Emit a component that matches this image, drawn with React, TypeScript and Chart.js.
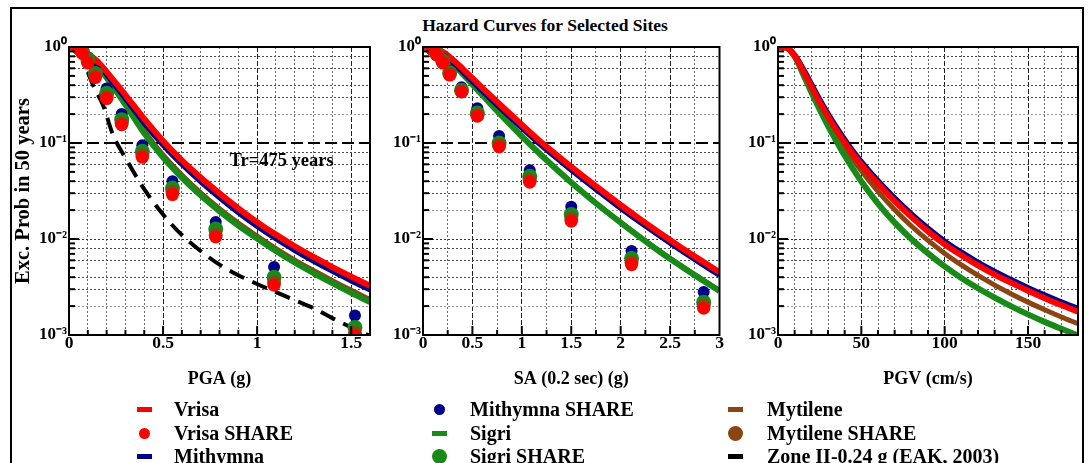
import { useEffect, useRef } from "react";
import { Chart, registerables } from "chart.js";

Chart.register(...registerables);

const FONT = "'Liberation Serif', 'Times New Roman', Times, serif";

const C_RED = "#ff0000";
const C_NAVY = "#00008b";
const C_GREEN = "#178a17";
const C_BROWN = "#8b4513";
const C_BLACK = "#000000";

// ---------------- Panel 1 : PGA (g) ----------------
const pgaX = [0, 0.05, 0.1, 0.15, 0.2, 0.3, 0.4, 0.5, 0.6, 0.7, 0.8, 0.9, 1.0, 1.1, 1.2, 1.3, 1.4, 1.5, 1.6];
const pgaVrisa = [1.0, 0.975, 0.85, 0.71, 0.55, 0.316, 0.178, 0.105, 0.066, 0.0437, 0.0299, 0.0209, 0.015, 0.0111, 0.00841, 0.0065, 0.0051, 0.00406, 0.00326];
const pgaMithymna = [1.0, 0.966, 0.822, 0.668, 0.513, 0.288, 0.16, 0.0944, 0.0596, 0.0394, 0.0269, 0.0188, 0.0135, 0.01, 0.00759, 0.00586, 0.0046, 0.00366, 0.00294];
const pgaSigri = [1.0, 0.955, 0.8, 0.631, 0.479, 0.251, 0.126, 0.0708, 0.0437, 0.0285, 0.0195, 0.0138, 0.0101, 0.0075, 0.00569, 0.00442, 0.00347, 0.00275, 0.00221];
const pgaMytilene = [1.0, 0.97, 0.83, 0.66, 0.505, 0.266, 0.1336, 0.075, 0.0463, 0.0302, 0.0207, 0.01463, 0.0107, 0.00795, 0.00603, 0.00469, 0.00368, 0.00292, 0.00234];
const pgaEakX = [0.1, 0.128, 0.18, 0.235, 0.3, 0.4, 0.5, 0.6, 0.7, 0.8, 0.9, 1.0, 1.1, 1.2, 1.3, 1.4, 1.5, 1.6];
const pgaEak = [0.55, 0.4, 0.25, 0.12, 0.07, 0.033, 0.018, 0.011, 0.0075, 0.0054, 0.0042, 0.0034, 0.0028, 0.0023, 0.0019, 0.0015, 0.0012, 0.00098];
const pgaShareX = [0.05, 0.071, 0.1, 0.14, 0.2, 0.28, 0.39, 0.55, 0.78, 1.09, 1.52];
const pgaShareMithymna = [1.0, 0.93, 0.78, 0.57, 0.37, 0.2, 0.095, 0.04, 0.015, 0.0051, 0.0016];
const pgaShareSigri = [0.99, 0.9, 0.74, 0.53, 0.33, 0.175, 0.082, 0.034, 0.0127, 0.004, 0.0012];
const pgaShareMytilene = [0.98, 0.88, 0.7, 0.5, 0.3, 0.16, 0.074, 0.031, 0.011, 0.0035, 0.00105];
const pgaShareVrisa = [0.97, 0.86, 0.68, 0.48, 0.29, 0.155, 0.071, 0.029, 0.0105, 0.0033, 0.00098];

// ---------------- Panel 2 : SA (0.2 sec) (g) ----------------
const saX = [0, 0.1, 0.2, 0.3, 0.4, 0.5, 0.6, 0.8, 1.0, 1.2, 1.4, 1.6, 1.8, 2.0, 2.2, 2.4, 2.6, 2.8, 3.0];
const saVrisa = [1.0, 0.977, 0.891, 0.741, 0.596, 0.473, 0.376, 0.24, 0.155, 0.101, 0.0684, 0.0468, 0.0324, 0.0226, 0.016, 0.01148, 0.00832, 0.0061, 0.00452];
const saMithymna = [1.0, 0.97, 0.86, 0.69, 0.55, 0.436, 0.347, 0.221, 0.143, 0.0933, 0.0631, 0.0432, 0.0299, 0.0208, 0.01477, 0.0106, 0.00768, 0.00563, 0.00417];
const saSigri = [1.0, 0.966, 0.841, 0.676, 0.525, 0.407, 0.316, 0.1905, 0.1175, 0.0741, 0.0479, 0.0316, 0.0214, 0.0148, 0.01035, 0.00733, 0.00531, 0.00389, 0.00288];
const saMytilene = [1.0, 0.97, 0.858, 0.69, 0.536, 0.415, 0.322, 0.194, 0.12, 0.0756, 0.0489, 0.0322, 0.0218, 0.0151, 0.01056, 0.00748, 0.00542, 0.00397, 0.00294];
const saShareX = [0.1, 0.14, 0.2, 0.27, 0.39, 0.55, 0.77, 1.08, 1.5, 2.11, 2.84];
const saShareMithymna = [0.98, 0.9, 0.76, 0.57, 0.38, 0.23, 0.118, 0.052, 0.0217, 0.0075, 0.0028];
const saShareSigri = [0.96, 0.86, 0.72, 0.54, 0.355, 0.205, 0.1, 0.045, 0.018, 0.0063, 0.0022];
const saShareMytilene = [0.95, 0.84, 0.7, 0.52, 0.345, 0.195, 0.095, 0.041, 0.0162, 0.0057, 0.002];
const saShareVrisa = [0.94, 0.82, 0.68, 0.51, 0.34, 0.19, 0.091, 0.039, 0.0153, 0.0054, 0.0019];

// ---------------- Panel 3 : PGV (cm/s) ----------------
const pgvX = [0, 5, 10, 15, 20, 25, 30, 35, 40, 45, 50, 60, 70, 80, 90, 100, 110, 120, 130, 140, 150, 160, 170, 180];
const pgvMithymna = [1.0, 0.99, 0.832, 0.603, 0.417, 0.288, 0.204, 0.148, 0.1096, 0.0832, 0.0646, 0.0407, 0.0269, 0.0184, 0.01303, 0.00955, 0.00733, 0.00575, 0.00462, 0.00378, 0.00313, 0.00262, 0.00222, 0.0019];
const pgvVrisa = [1.0, 0.99, 0.81, 0.565, 0.385, 0.266, 0.188, 0.1365, 0.1011, 0.0768, 0.0596, 0.0376, 0.0248, 0.017, 0.012, 0.0088, 0.00677, 0.0053, 0.00426, 0.00349, 0.00289, 0.00242, 0.00205, 0.00175];
const pgvMytilene = [1.0, 0.985, 0.813, 0.569, 0.38, 0.257, 0.178, 0.126, 0.0912, 0.0676, 0.0513, 0.0313, 0.0202, 0.01365, 0.00966, 0.00708, 0.00537, 0.00417, 0.00331, 0.00268, 0.0022, 0.00183, 0.00154, 0.00131];
const pgvSigri = [1.0, 0.98, 0.794, 0.525, 0.339, 0.224, 0.151, 0.105, 0.0741, 0.0537, 0.0398, 0.0234, 0.0148, 0.01, 0.00708, 0.00518, 0.00393, 0.00307, 0.00245, 0.00199, 0.00164, 0.00137, 0.00116, 0.00099];

// ---------------- Axes / ticks ----------------
const yDecades = [0.001, 0.01, 0.1, 1];
const yMinorMultipliers = [2, 3, 4, 5, 6, 7, 8, 9];
const yGridMultipliers = [3, 4, 6, 8];
const yFaintMultipliers = [2];
const trLineValue = 0.1;

const pgaMajorTicks = [0, 0.5, 1, 1.5];
const saMajorTicks = [0, 0.5, 1, 1.5, 2, 2.5, 3];
const pgvMajorTicks = [0, 50, 100, 150];

const trLabel = "Tr=475 years";
const trLabelX = 1.13;
const trLabelY = 0.065;

const legendItems = [
  { label: "Vrisa", color: C_RED, kind: "line", size: 0 },
  { label: "Vrisa SHARE", color: C_RED, kind: "dot", size: 11 },
  { label: "Mithymna", color: C_NAVY, kind: "line", size: 0 },
  { label: "Mithymna SHARE", color: C_NAVY, kind: "dot", size: 11 },
  { label: "Sigri", color: C_GREEN, kind: "line", size: 0 },
  { label: "Sigri SHARE", color: C_GREEN, kind: "dot", size: 15 },
  { label: "Mytilene", color: C_BROWN, kind: "line", size: 0 },
  { label: "Mytilene SHARE", color: C_BROWN, kind: "dot", size: 15 },
  { label: "Zone II-0.24 g (EAK, 2003)", color: C_BLACK, kind: "line", size: 0 },
];

// ---------------- helpers ----------------
const supMap: Record<string, string> = { "-": "\u207B", "0": "\u2070", "1": "\u00B9", "2": "\u00B2", "3": "\u00B3" };
const sup = (n: number) => String(n).split("").map((c) => supMap[c] ?? c).join("");

const yTickValues: number[] = [];
yDecades.forEach((d, i) => {
  yTickValues.push(d);
  if (i < yDecades.length - 1) yMinorMultipliers.forEach((m) => yTickValues.push(+(m * d).toPrecision(6)));
});

function mantissa(v: number) {
  const e = Math.floor(Math.log10(v) + 1e-9);
  return Math.round((v / Math.pow(10, e)) * 1000) / 1000;
}
const near = (a: number, b: number) => Math.abs(a - b) < 1e-9 * Math.max(1, Math.abs(b));

function xy(xs: number[], ys: number[]) {
  return xs.map((x, i) => ({ x, y: ys[i] }));
}
function lineDs(label: string, xs: number[], ys: number[], color: string, width: number, order: number, dash: number[] = []) {
  return {
    label,
    data: xy(xs, ys),
    showLine: true,
    borderColor: color,
    backgroundColor: color,
    borderWidth: width,
    borderDash: dash,
    pointRadius: 0,
    cubicInterpolationMode: "monotone",
    order,
  };
}
function dotDs(label: string, xs: number[], ys: number[], color: string, r: number, order: number) {
  return {
    label,
    data: xy(xs, ys),
    showLine: false,
    pointRadius: r,
    pointBackgroundColor: color,
    pointBorderColor: color,
    pointBorderWidth: 0,
    backgroundColor: color,
    borderColor: color,
    order,
  };
}

interface PanelDef {
  xMax: number;
  xStep: number;
  xMajor: number[];
  xTitle: string;
  yAxisWidth: number;
  padRight: number;
  yTitle: string | null;
  datasets: any[];
  trText: boolean;
}

const isMajorX = (v: number, majors: number[]) => majors.some((m) => Math.abs(m - v) < 1e-6);

const axisPlugin = {
  id: "axisFrame",
  afterDatasetsDraw(chart: any) {
    const { ctx, chartArea: a, scales } = chart;
    const majors: number[] = chart.options.plugins.axisFrame.majors;
    const showTr: boolean = chart.options.plugins.axisFrame.tr;
    ctx.save();
    ctx.strokeStyle = "#000";
    ctx.lineWidth = 2;
    scales.y.ticks.forEach((t: any) => {
      const v = t.value;
      if (near(v, 1) || near(v, 0.001)) return;
      const p = scales.y.getPixelForValue(v);
      const len = mantissa(v) === 1 ? 10 : 6;
      ctx.beginPath();
      ctx.moveTo(a.left, p);
      ctx.lineTo(a.left + len, p);
      ctx.stroke();
    });
    scales.x.ticks.forEach((t: any) => {
      const v = t.value;
      const p = scales.x.getPixelForValue(v);
      if (Math.abs(p - a.left) < 1 || Math.abs(p - a.right) < 1) return;
      const len = isMajorX(v, majors) ? 9 : 5;
      ctx.beginPath();
      ctx.moveTo(p, a.bottom);
      ctx.lineTo(p, a.bottom - len);
      ctx.stroke();
    });
    ctx.strokeRect(a.left, a.top, a.right - a.left, a.bottom - a.top);
    if (showTr) {
      ctx.fillStyle = "#000";
      ctx.font = `bold 18.5px ${FONT}`;
      ctx.textAlign = "center";
      ctx.textBaseline = "middle";
      ctx.fillText(trLabel, scales.x.getPixelForValue(trLabelX), scales.y.getPixelForValue(trLabelY));
    }
    ctx.restore();
  },
};

function makeConfig(p: PanelDef): any {
  const xTicks: number[] = [];
  const n = Math.round(p.xMax / p.xStep);
  for (let i = 0; i <= n; i++) xTicks.push(Math.round(i * p.xStep * 1e6) / 1e6);
  const transparent = "rgba(0,0,0,0)";
  return {
    type: "scatter",
    data: { datasets: p.datasets },
    plugins: [axisPlugin],
    options: {
      responsive: false,
      animation: false,
      devicePixelRatio: 1,
      events: [],
      layout: { padding: { top: 47, right: p.padRight, left: 0, bottom: 0 } },
      plugins: {
        legend: { display: false },
        tooltip: { enabled: false },
        axisFrame: { majors: p.xMajor, tr: p.trText },
      },
      scales: {
        x: {
          type: "linear",
          min: 0,
          max: p.xMax,
          afterBuildTicks: (s: any) => {
            s.ticks = xTicks.map((v) => ({ value: v }));
          },
          afterFit: (s: any) => {
            s.height = 65;
          },
          ticks: {
            autoSkip: false,
            maxRotation: 0,
            padding: -2,
            color: "#000",
            font: { family: FONT, size: 17.5, weight: "bold" },
            callback: (v: number) => (isMajorX(v, p.xMajor) ? String(Math.round(v * 100) / 100) : ""),
          },
          grid: {
            drawTicks: false,
            color: (c: any) => {
              const v = c.tick?.value;
              if (v === undefined || v <= 1e-9 || Math.abs(v - p.xMax) < 1e-6) return transparent;
              return isMajorX(v, p.xMajor) ? "#222" : "#6a6a6a";
            },
            lineWidth: 1,
          },
          border: {
            display: true,
            color: "#000",
            width: 2,
            dash: (c: any) => {
              const v = c.tick?.value;
              if (v === undefined) return [];
              return isMajorX(v, p.xMajor) ? [5, 2] : [2, 2];
            },
          },
          title: {
            display: true,
            text: p.xTitle,
            color: "#000",
            font: { family: FONT, size: 18, weight: "bold" },
            padding: { top: 0, bottom: 10 },
          },
        },
        y: {
          type: "logarithmic",
          min: 0.001,
          max: 1,
          afterBuildTicks: (s: any) => {
            s.ticks = yTickValues.map((v) => ({ value: v }));
          },
          afterFit: (s: any) => {
            s.width = p.yAxisWidth;
          },
          ticks: {
            autoSkip: false,
            padding: 2,
            color: "#000",
            font: { family: FONT, size: 17, weight: "bold" },
            callback: (v: number) => {
              const e = Math.round(Math.log10(v));
              return near(v, Math.pow(10, e)) ? "10" + sup(e) : "";
            },
          },
          grid: {
            drawTicks: false,
            color: (c: any) => {
              const v = c.tick?.value;
              if (v === undefined || near(v, 1) || near(v, 0.001)) return transparent;
              if (near(v, trLineValue)) return "#000";
              const m = mantissa(v);
              if (m === 1) return "#333";
              if (yGridMultipliers.includes(m)) return "#4a4a4a";
              if (yFaintMultipliers.includes(m)) return "#9a9a9a";
              return transparent;
            },
            lineWidth: (c: any) => (c.tick && near(c.tick.value, trLineValue) ? 2 : 1),
          },
          border: {
            display: true,
            color: "#000",
            width: 2,
            dash: (c: any) => {
              const v = c.tick?.value;
              if (v === undefined) return [];
              if (near(v, trLineValue)) return [12, 5];
              return [2, 2];
            },
          },
          title: {
            display: !!p.yTitle,
            text: p.yTitle ?? "",
            color: "#000",
            font: { family: FONT, size: 20.5, weight: "bold" },
            padding: { top: 11, bottom: 0 },
          },
        },
      },
    },
  };
}

const panel1: PanelDef = {
  xMax: 1.6,
  xStep: 0.1,
  xMajor: pgaMajorTicks,
  xTitle: "PGA (g)",
  yAxisWidth: 69,
  padRight: 15,
  yTitle: "Exc. Prob in 50 years",
  trText: true,
  datasets: [
    dotDs("Vrisa SHARE", pgaShareX, pgaShareVrisa, C_RED, 6.5, 0),
    dotDs("Mytilene SHARE", pgaShareX, pgaShareMytilene, C_BROWN, 7, 1),
    dotDs("Sigri SHARE", pgaShareX, pgaShareSigri, C_GREEN, 7.5, 2),
    dotDs("Mithymna SHARE", pgaShareX, pgaShareMithymna, C_NAVY, 6, 3),
    lineDs("Zone II-0.24 g (EAK, 2003)", pgaEakX, pgaEak, C_BLACK, 4, 4, [16, 9]),
    lineDs("Vrisa", pgaX, pgaVrisa, C_RED, 6, 5),
    lineDs("Mithymna", pgaX, pgaMithymna, C_NAVY, 5, 6),
    lineDs("Sigri", pgaX, pgaSigri, C_GREEN, 6, 7),
    lineDs("Mytilene", pgaX, pgaMytilene, C_BROWN, 5, 8),
  ],
};

const panel2: PanelDef = {
  xMax: 3,
  xStep: 0.25,
  xMajor: saMajorTicks,
  xTitle: "SA (0.2 sec) (g)",
  yAxisWidth: 38,
  padRight: 7,
  yTitle: null,
  trText: false,
  datasets: [
    dotDs("Vrisa SHARE", saShareX, saShareVrisa, C_RED, 6.5, 0),
    dotDs("Mytilene SHARE", saShareX, saShareMytilene, C_BROWN, 7, 1),
    dotDs("Sigri SHARE", saShareX, saShareSigri, C_GREEN, 7.5, 2),
    dotDs("Mithymna SHARE", saShareX, saShareMithymna, C_NAVY, 6, 3),
    lineDs("Vrisa", saX, saVrisa, C_RED, 6, 5),
    lineDs("Mithymna", saX, saMithymna, C_NAVY, 5, 6),
    lineDs("Sigri", saX, saSigri, C_GREEN, 6, 7),
    lineDs("Mytilene", saX, saMytilene, C_BROWN, 4, 8),
  ],
};

const panel3: PanelDef = {
  xMax: 180,
  xStep: 10,
  xMajor: pgvMajorTicks,
  xTitle: "PGV (cm/s)",
  yAxisWidth: 51,
  padRight: 10,
  yTitle: null,
  trText: false,
  datasets: [
    lineDs("Vrisa", pgvX, pgvVrisa, C_RED, 6, 5),
    lineDs("Mithymna", pgvX, pgvMithymna, C_NAVY, 5, 6),
    lineDs("Sigri", pgvX, pgvSigri, C_GREEN, 6, 7),
    lineDs("Mytilene", pgvX, pgvMytilene, C_BROWN, 5, 8),
  ],
};

const legendCols = [
  { markerX: 144, textX: 174 },
  { markerX: 439, textX: 470 },
  { markerX: 735, textX: 767 },
];
const legendRows = [409, 433, 456];

export default function App() {
  const r1 = useRef<HTMLCanvasElement>(null);
  const r2 = useRef<HTMLCanvasElement>(null);
  const r3 = useRef<HTMLCanvasElement>(null);

  useEffect(() => {
    const charts = [
      new Chart(r1.current as HTMLCanvasElement, makeConfig(panel1)),
      new Chart(r2.current as HTMLCanvasElement, makeConfig(panel2)),
      new Chart(r3.current as HTMLCanvasElement, makeConfig(panel3)),
    ];
    return () => charts.forEach((c) => c.destroy());
  }, []);

  return (
    <div
      style={{
        position: "absolute",
        left: 0,
        top: 0,
        width: 1088,
        height: 463,
        overflow: "hidden",
        background: "#fff",
        fontFamily: FONT,
        color: "#000",
      }}
    >
      <div style={{ position: "absolute", left: 10, top: 7, width: 1070, height: 520, border: "2px solid #000" }} />
      <div
        style={{
          position: "absolute",
          left: 0,
          top: 15,
          width: 1090,
          textAlign: "center",
          fontWeight: "bold",
          fontSize: 17.5,
          lineHeight: "20px",
        }}
      >
        Hazard Curves for Selected Sites
      </div>
      <canvas ref={r1} width={385} height={400} style={{ position: "absolute", left: 0, top: 0 }} />
      <canvas ref={r2} width={342} height={400} style={{ position: "absolute", left: 385, top: 0 }} />
      <canvas ref={r3} width={361} height={400} style={{ position: "absolute", left: 727, top: 0 }} />
      {legendItems.map((it, i) => {
        const col = legendCols[Math.floor(i / 3)];
        const y = legendRows[i % 3];
        return (
          <div key={it.label}>
            {it.kind === "line" ? (
              <div
                style={{
                  position: "absolute",
                  left: col.markerX - 7.5,
                  top: y - 2.5,
                  width: 15,
                  height: 5,
                  background: it.color,
                }}
              />
            ) : (
              <div
                style={{
                  position: "absolute",
                  left: col.markerX - it.size / 2,
                  top: y - it.size / 2,
                  width: it.size,
                  height: it.size,
                  borderRadius: "50%",
                  background: it.color,
                }}
              />
            )}
            <div
              style={{
                position: "absolute",
                left: col.textX,
                top: y - 12,
                lineHeight: "24px",
                fontSize: 20,
                fontWeight: "bold",
                whiteSpace: "nowrap",
              }}
            >
              {it.label}
            </div>
          </div>
        );
      })}
    </div>
  );
}
